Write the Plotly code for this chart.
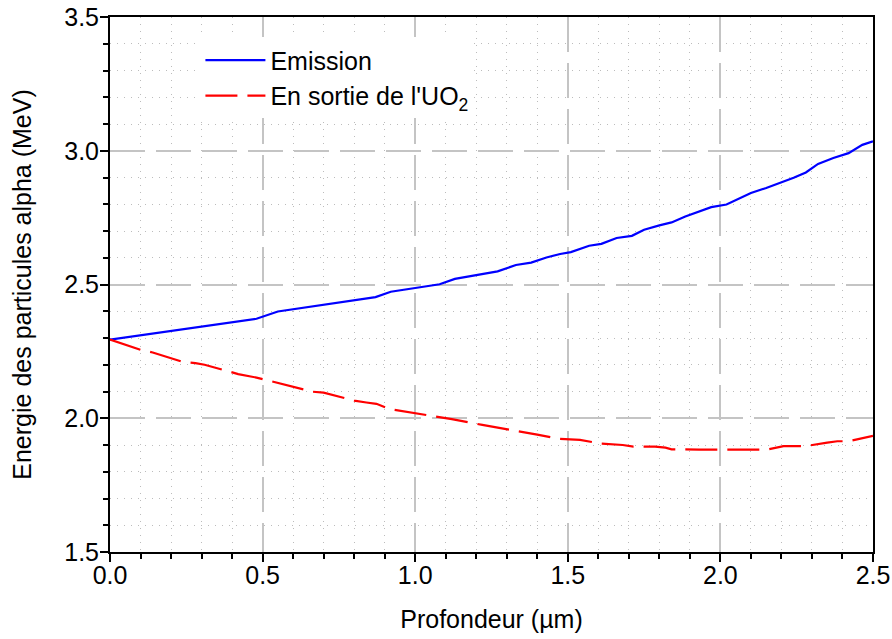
import plotly.graph_objects as go

# Data
emission_x = [0, 0.1, 0.2, 0.3, 0.4, 0.48, 0.55, 0.70, 0.80, 0.87, 0.92, 1.0, 1.08, 1.13,
              1.27, 1.33, 1.38, 1.43, 1.475, 1.51, 1.57, 1.61, 1.66, 1.71, 1.75, 1.80,
              1.84, 1.885, 1.93, 1.97, 2.02, 2.06, 2.10, 2.15, 2.20, 2.24, 2.28, 2.32,
              2.37, 2.42, 2.465, 2.50]
emission_y = [2.294, 2.31, 2.326, 2.341, 2.357, 2.372, 2.399, 2.424, 2.443, 2.453, 2.473,
              2.487, 2.501, 2.521, 2.549, 2.573, 2.582, 2.601, 2.614, 2.621, 2.645, 2.652,
              2.674, 2.682, 2.705, 2.721, 2.732, 2.754, 2.771, 2.789, 2.799, 2.820, 2.842,
              2.861, 2.881, 2.899, 2.919, 2.951, 2.973, 2.991, 3.022, 3.035]

sortie_x = [0, 0.10, 0.14, 0.24, 0.28, 0.31, 0.39, 0.42, 0.48, 0.53, 0.56, 0.59, 0.665,
            0.70, 0.75, 0.80, 0.84, 0.873, 0.917, 0.95, 0.98, 1.026, 1.087, 1.12, 1.22,
            1.26, 1.365, 1.40, 1.47, 1.51, 1.54, 1.61, 1.65, 1.68, 1.715, 1.786, 1.82,
            1.84, 1.93, 2.065, 2.153, 2.207, 2.28, 2.35, 2.383, 2.42, 2.50]
sortie_y = [2.294, 2.256, 2.246, 2.210, 2.206, 2.200, 2.175, 2.165, 2.152, 2.137, 2.129,
            2.121, 2.099, 2.096, 2.081, 2.066, 2.059, 2.054, 2.034, 2.028, 2.023, 2.015,
            2.003, 1.997, 1.975, 1.967, 1.947, 1.939, 1.923, 1.922, 1.919, 1.905, 1.903,
            1.900, 1.894, 1.894, 1.890, 1.884, 1.883, 1.883, 1.883, 1.896, 1.896, 1.909,
            1.914, 1.914, 1.934]

x_title = "Profondeur (µm)"
y_title = "Energie des particules alpha (MeV)"
names = ["Emission", "En sortie de l'UO<sub>2</sub>"]

FONT = "Liberation Sans, Arial, sans-serif"

fig = go.Figure()
fig.add_trace(go.Scatter(x=emission_x, y=emission_y, mode="lines", name=names[0],
                         line=dict(color="#0000ff", width=2.2)))
fig.add_trace(go.Scatter(x=sortie_x, y=sortie_y, mode="lines", name=names[1],
                         line=dict(color="#ff0000", width=2.2, dash="32px,10px")))

axis_common = dict(
    showline=True, linecolor="black", linewidth=2, mirror=True,
    ticks="outside", ticklen=8, tickwidth=2, tickcolor="black",
    showgrid=True, gridcolor="#c4c4c4", gridwidth=2, griddash="35px,11px",
    zeroline=False, automargin=False, ticklabeloverflow="allow",
    tickfont=dict(size=25, color="black", family=FONT),
)

fig.update_xaxes(range=[0, 2.5], dtick=0.5, tick0=0, tickformat=".1f",
                 ticklabelstandoff=-8,
                 title=dict(text=x_title, font=dict(size=25, family=FONT, color="black"), standoff=22),
                 minor=dict(dtick=0.1, tick0=0, ticks="outside", ticklen=5, tickwidth=1.5,
                            tickcolor="black", showgrid=True, gridcolor="#bcbcbc",
                            gridwidth=1, griddash="1px,6px"),
                 **axis_common)
fig.update_yaxes(range=[1.5, 3.5], dtick=0.5, tick0=1.5, tickformat=".1f",
                 ticklabelstandoff=-4,
                 title=dict(text=y_title, font=dict(size=25, family=FONT, color="black"), standoff=25),
                 minor=dict(dtick=0.1, tick0=1.5, ticks="outside", ticklen=5, tickwidth=1.5,
                            tickcolor="black", showgrid=True, gridcolor="#bcbcbc",
                            gridwidth=1, griddash="1px,6px"),
                 **axis_common)

fig.update_layout(
    width=892, height=639,
    margin=dict(l=110, r=19, t=17, b=87, autoexpand=False),
    paper_bgcolor="white", plot_bgcolor="white",
    font=dict(family=FONT, size=25, color="black"),
    showlegend=True,
    legend=dict(x=0.1185, y=0.962, xanchor="left", yanchor="top",
                bgcolor="rgba(255,255,255,1)", borderwidth=0,
                font=dict(size=25, family=FONT, color="black"),
                tracegroupgap=0, itemwidth=60),
)

fig.write_html(
    "out.html",
    config={"displayModeBar": False},
    post_script="document.body.style.margin='0';document.body.style.overflow='hidden';",
)
